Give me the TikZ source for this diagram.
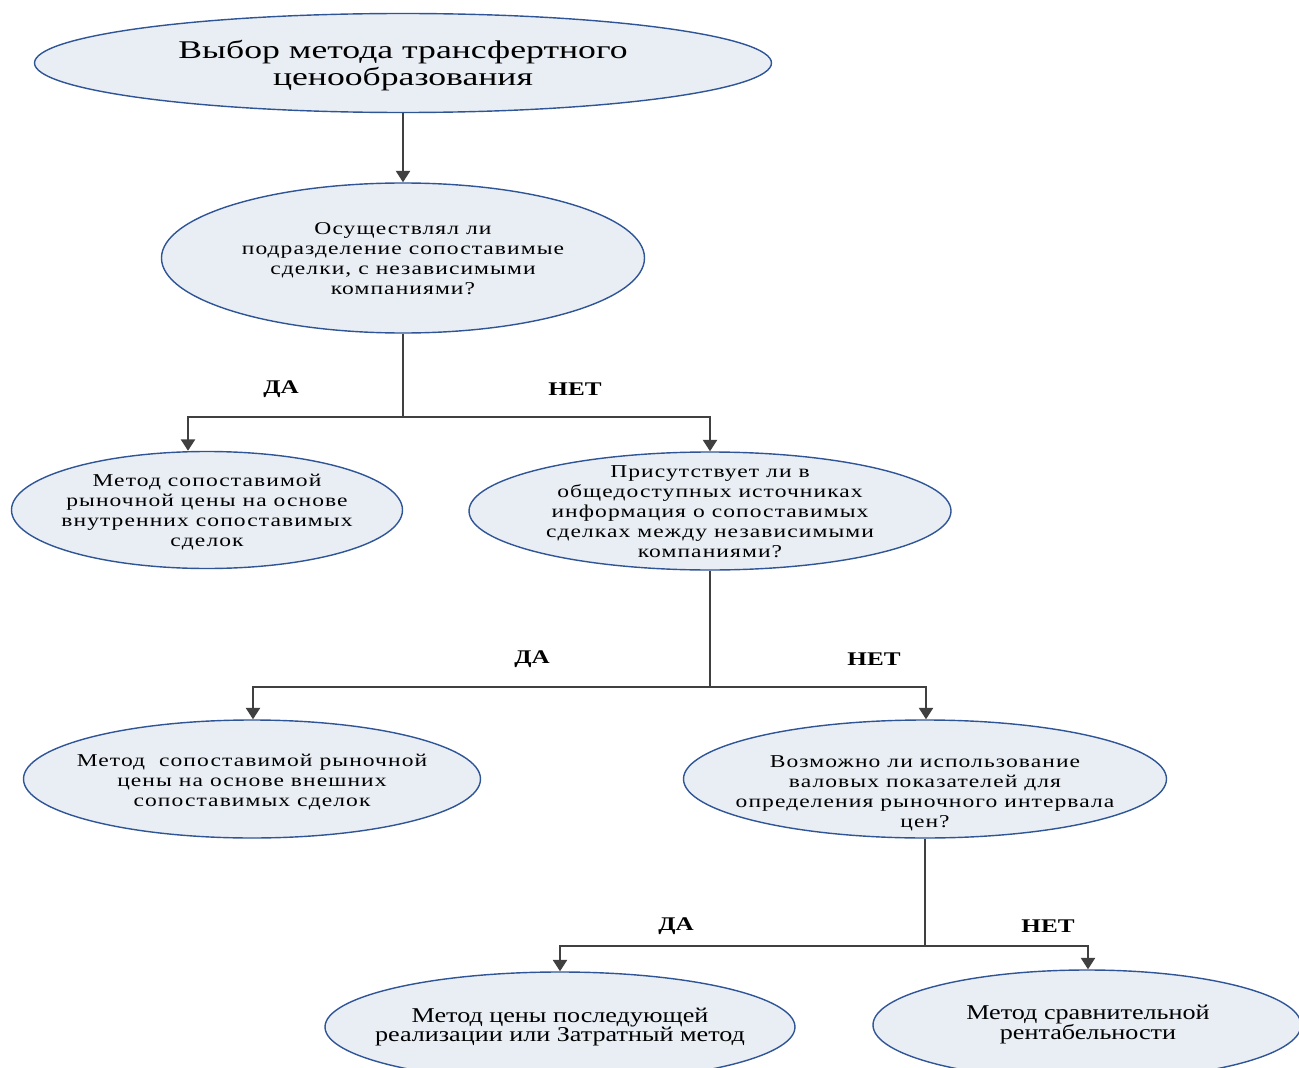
\documentclass[tikz,border=0pt]{standalone}
\usepackage{fontspec}
\setmainfont{Liberation Serif}[FakeStretch=1.3]
\newfontfamily\tfont{Liberation Serif}[FakeStretch=1.4]
\newfontfamily\qfont{Liberation Serif}[FakeStretch=1.3,LetterSpace=6]
\newfontfamily\bfont{Liberation Serif}[FakeStretch=1.24]
\usetikzlibrary{shapes.geometric,arrows.meta}
\definecolor{ellfill}{HTML}{E9EEF5}
\definecolor{elldraw}{HTML}{2F5597}
\definecolor{conncol}{HTML}{404040}
\tikzset{
  ell/.style={ellipse, draw=elldraw, fill=ellfill, line width=0.8pt, inner sep=0pt},
  ttext/.style={align=center, font=\tfont\fontsize{14.5}{15.3}\selectfont, inner sep=0pt},
  qtext/.style={align=center, font=\qfont\fontsize{10.3}{11.4}\selectfont, inner sep=0pt},
  btext/.style={align=center, font=\bfont\fontsize{12}{11.3}\selectfont, inner sep=0pt},
  lbl/.style={font=\bfseries\fontsize{11}{12}\selectfont, inner sep=0pt},
  conn/.style={draw=conncol, line width=1.2pt},
  arr/.style={conn, -{Triangle[width=8pt,length=6.5pt]}}
}
\begin{document}
\begin{tikzpicture}[x=0.02cm, y=-0.02cm]
\useasboundingbox (0,0) rectangle (1299,1068);
% ellipses
\node[ell, minimum width=737*0.02cm, minimum height=99*0.02cm] (top) at (403,63) {};
\node[ttext] (topt) at (403,66) {Выбор метода трансфертного\\ценообразования};
\node[ell, minimum width=483*0.02cm, minimum height=150*0.02cm] (q1) at (403,258) {};
\node[qtext] (q1t) at (403,259) {Осуществлял ли\\подразделение сопоставимые\\сделки, с независимыми\\компаниями?};
\node[ell, minimum width=391*0.02cm, minimum height=117*0.02cm] (a1) at (207,510) {};
\node[qtext] (a1t) at (207,512) {Метод сопоставимой\\рыночной цены на основе\\внутренних сопоставимых\\сделок};
\node[ell, minimum width=482*0.02cm, minimum height=118*0.02cm] (q2) at (710,511) {};
\node[qtext] (q2t) at (710,511.5) {Присутствует ли в\\общедоступных источниках\\информация о сопоставимых\\сделках между независимыми\\компаниями?};
\node[ell, minimum width=457*0.02cm, minimum height=118*0.02cm] (a2) at (252,779) {};
\node[qtext] (a2t) at (252,782) {Метод~ сопоставимой рыночной\\цены на основе внешних\\сопоставимых сделок};
\node[ell, minimum width=483*0.02cm, minimum height=118*0.02cm] (q3) at (925,779) {};
\node[qtext] (q3t) at (925,793) {Возможно ли использование\\валовых показателей для\\определения рыночного интервала\\цен?};
\node[ell, minimum width=470*0.02cm, minimum height=110*0.02cm] (b1) at (560,1027) {};
\node[btext] (b1t) at (560,1027) {Метод цены последующей\\реализации или Затратный метод};
\node[ell, minimum width=428*0.02cm, minimum height=110*0.02cm] (b2) at (1087,1025) {};
\node[btext] (b2t) at (1088,1024.5) {Метод сравнительной\\рентабельности};
% connectors
\draw[arr] (top.south) -- (q1.north);
\coordinate (j1) at (403,417);
\coordinate (j1l) at (188,417);
\coordinate (j1r) at (710,417);
\draw[conn] (q1.south) -- (j1);
\draw[arr] (j1) -- (j1l) -- (j1l |- a1.north);
\draw[arr] (j1) -- (j1r) -- (q2.north);
\node[lbl] (da1) at (281,389) {ДА};
\node[lbl] (net1) at (575,389) {НЕТ};
\coordinate (j2) at (710,687);
\coordinate (j2l) at (253,687);
\coordinate (j2r) at (926,687);
\draw[conn] (q2.south) -- (j2);
\draw[arr] (j2) -- (j2l) -- (j2l |- a2.north);
\draw[arr] (j2) -- (j2r) -- (j2r |- q3.north);
\node[lbl] (da2) at (532,659) {ДА};
\node[lbl] (net2) at (874,659) {НЕТ};
\coordinate (j3) at (925,946);
\coordinate (j3l) at (560,946);
\coordinate (j3r) at (1088,946);
\draw[conn] (q3.south) -- (j3);
\draw[arr] (j3) -- (j3l) -- (b1.north);
\draw[arr] (j3) -- (j3r) -- (j3r |- b2.north);
\node[lbl] (da3) at (676,926) {ДА};
\node[lbl] (net3) at (1048,926) {НЕТ};
\end{tikzpicture}
\end{document}
